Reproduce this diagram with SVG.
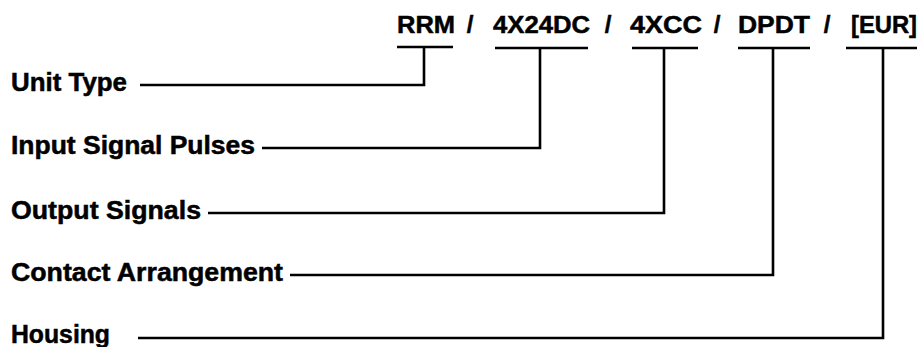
<svg xmlns="http://www.w3.org/2000/svg" width="920" height="347" viewBox="0 0 920 347">
<style>
text{font-family:"Liberation Sans",Arial,sans-serif;font-weight:bold;fill:#000;stroke:#000;stroke-width:0.5}
.code{font-size:24px}
.lbl{font-size:25px}
.ln{fill:none;stroke:#000;stroke-width:2.6;stroke-linejoin:miter;stroke-linecap:butt}
</style>
<rect width="920" height="347" fill="#fff"/>
<g id="code">
<text class="code" x="397" y="33" textLength="58" lengthAdjust="spacingAndGlyphs">RRM</text>
<text class="code" x="470" y="33" text-anchor="middle">/</text>
<text class="code" x="493" y="33" textLength="97" lengthAdjust="spacingAndGlyphs">4X24DC</text>
<text class="code" x="608" y="33" text-anchor="middle">/</text>
<text class="code" x="630" y="33" textLength="72" lengthAdjust="spacingAndGlyphs">4XCC</text>
<text class="code" x="717" y="33" text-anchor="middle">/</text>
<text class="code" x="738" y="33" textLength="72" lengthAdjust="spacingAndGlyphs">DPDT</text>
<text class="code" x="827" y="33" text-anchor="middle">/</text>
<text class="code" x="851" y="33" textLength="66" lengthAdjust="spacingAndGlyphs">[EUR]</text>
</g>
<g id="unit-type"><text class="lbl" x="11" y="91" textLength="116" lengthAdjust="spacingAndGlyphs">Unit Type</text></g>
<g id="input-signal-pulses"><text class="lbl" x="11" y="154" textLength="244" lengthAdjust="spacingAndGlyphs">Input Signal Pulses</text></g>
<g id="output-signals"><text class="lbl" x="11" y="219" textLength="190" lengthAdjust="spacingAndGlyphs">Output Signals</text></g>
<g id="contact-arrangement"><text class="lbl" x="11" y="281" textLength="272" lengthAdjust="spacingAndGlyphs">Contact Arrangement</text></g>
<g id="housing"><text class="lbl" x="11" y="343" textLength="99" lengthAdjust="spacingAndGlyphs">Housing</text></g>
<g id="connectors">
<path class="ln" d="M397 47H453M140 85H424V47"/>
<path class="ln" d="M495 48H588M262 148H540V48"/>
<path class="ln" d="M632 48H698M208 213H664V48"/>
<path class="ln" d="M738 48H810M290 275H773V48"/>
<path class="ln" d="M846 48H917M138 338H883V48"/>
</g>
</svg>
